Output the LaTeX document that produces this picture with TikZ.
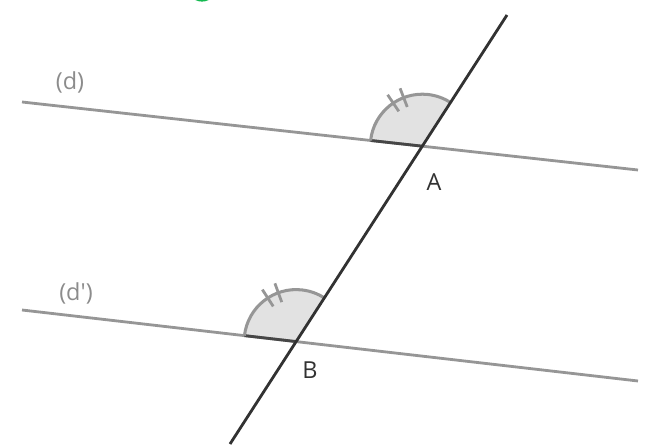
\documentclass[tikz,border=0pt]{standalone}
\usepackage{fontspec}
\setmainfont{Open Sans}
\usetikzlibrary{calc, intersections}
\definecolor{linegray}{RGB}{150,150,150}
\definecolor{darkline}{RGB}{50,50,50}
\definecolor{fillgray}{RGB}{226,226,226}
\definecolor{textgray}{RGB}{140,140,140}
\definecolor{titlegreen}{RGB}{20,185,80}

\begin{document}
\begin{tikzpicture}[x=0.03cm, y=0.03cm,
    parline/.style={linegray, line width=2.4pt},
    transline/.style={darkline, line width=2.4pt},
    angsector/.style={fill=fillgray},
    angarc/.style={linegray, line width=2.6pt},
    angtick/.style={linegray, line width=2.4pt},
    lbl/.style={textgray, font=\fontsize{20}{22}\selectfont},
    ptlbl/.style={darkline, font=\fontsize{20}{22}\selectfont}]
                \useasboundingbox (0,0) rectangle (648,444);
                \coordinate (D1) at (22,342); \coordinate (D2) at (638,274);
                \coordinate (E1) at (22,134); \coordinate (E2) at (638,63);
                \coordinate (T1) at (507,429); \coordinate (T2) at (230,0);
                \path[name path=d] (D1) -- (D2);
                \path[name path=e] (E1) -- (E2);
                \path[name path=t] (T1) -- (T2);
                \path[name intersections={of=d and t, by=A}];
                \path[name intersections={of=e and t, by=B}];
                % angle marks
                \fill[angsector] (A) -- ([shift={(173.7:52)}]A) arc[start angle=173.7, end angle=57.15, radius=52] -- cycle;
                \fill[angsector] (B) -- ([shift={(173.4:52)}]B) arc[start angle=173.4, end angle=57.15, radius=52] -- cycle;
                \draw[parline] (D1) -- (D2);
                \draw[parline] (E1) -- (E2);
                \draw[darkline!80!linegray, line width=2.4pt] (A) -- ([shift={(173.7:52)}]A);
                \draw[darkline!80!linegray, line width=2.4pt] (B) -- ([shift={(173.4:52)}]B);
                \draw[angarc] ([shift={(173.7:52)}]A) arc[start angle=173.7, end angle=57.15, radius=52];
                \draw[angarc] ([shift={(173.4:52)}]B) arc[start angle=173.4, end angle=57.15, radius=52];
                \foreach \a in {111,124}{
                    \draw[angtick] ([shift={(\a:42)}]A) -- ([shift={(\a:62)}]A);
                    \draw[angtick] ([shift={(\a-1:42)}]B) -- ([shift={(\a-1:62)}]B);
                }
                \draw[transline] (T1) -- (T2);
                \draw[titlegreen, line width=2.4pt] (202,448.3) ellipse[x radius=8, y radius=4.5];
                \node[lbl] (dlab) at (70,362) {(d)};
                \node[lbl] (eplab) at (76,151) {(d\textquotesingle)};
                \node[ptlbl] (Alab) at (434,262) {A};
                \node[ptlbl] (Blab) at (310,74) {B};
            \end{tikzpicture}
\end{document}
